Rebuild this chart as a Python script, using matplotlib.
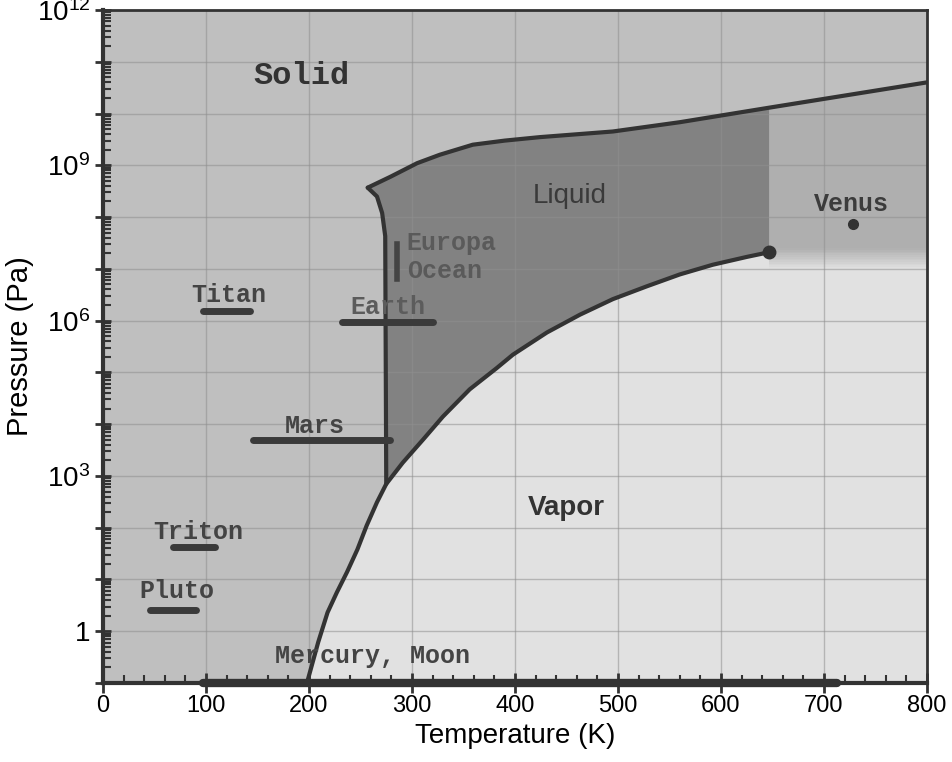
import numpy as np
import matplotlib
matplotlib.use("Agg")
import matplotlib.pyplot as plt
from matplotlib.ticker import MultipleLocator, LogLocator, NullFormatter

# phase boundaries of water (T in K, P in Pa)
vap_T = [198, 209, 218, 227, 237, 247, 256, 266, 275, 291, 311, 330, 356, 382, 398,
         431, 463, 495, 528, 560, 592, 625, 647]
vap_P = [0.1, 0.62, 2.3, 5.6, 14, 38, 110, 310, 700, 1800, 5100, 1.4e4, 4.7e4, 1.2e5,
         2.2e5, 5.9e5, 1.3e6, 2.6e6, 4.6e6, 7.8e6, 1.2e7, 1.7e7, 2.1e7]
melt_T = [275, 274, 271, 266, 257]
melt_P = [700, 4.3e7, 1.2e8, 2.5e8, 3.7e8]
top_T = [257, 279, 305, 327, 359, 390, 424, 495, 560, 647, 800]
top_P = [3.7e8, 6.0e8, 1.1e9, 1.6e9, 2.5e9, 3.0e9, 3.5e9, 4.5e9, 6.8e9, 1.3e10, 4.0e10]
crit_T, crit_P = 647, 2.1e7
super_low_P, super_high_P = 1.0e7, 2.5e7

# planetary surface conditions
bar_names = ['Titan', 'Earth', 'Mars', 'Triton', 'Pluto']
bar_tmin = [97, 232, 146, 68, 46]
bar_tmax = [143, 320, 279, 109, 90]
bar_p = [1.5e6, 9.2e5, 4.9e3, 42, 2.6]
europa_T = 285
europa_P = [6.3e6, 3.0e7]
venus_T, venus_P = 728, 7.2e7
moon_tmin, moon_tmax, moon_p = 97, 713, 0.1

ytick_pos = [1, 1e3, 1e6, 1e9, 1e12]
ytick_labels = ['1', '$10^{3}$', '$10^{6}$', '$10^{9}$', '$10^{12}$']
xtick_pos = [0, 100, 200, 300, 400, 500, 600, 700, 800]

SANS = 'Liberation Sans'
MONO = 'Liberation Mono'
plt.rcParams['font.family'] = SANS
plt.rcParams['mathtext.fontset'] = 'custom'
plt.rcParams['mathtext.rm'] = SANS
plt.rcParams['mathtext.it'] = SANS
plt.rcParams['mathtext.default'] = 'regular'

C_SOLID = '#bfbfbf'
C_LIQUID = '#828282'
C_VAPOR = '#e1e1e1'
C_SUPER = '#afafaf'
C_LINE = '#333333'

fig = plt.figure(figsize=(9.53, 7.62), dpi=100)
ax = fig.add_axes([103 / 953, 1 - 683 / 762, 824 / 953, 673 / 762])
ax.set_yscale('log')
ax.set_xlim(0, 800)
ax.set_ylim(0.1, 1e12)
ax.set_facecolor(C_SOLID)

#Vapor region: under the curve, and under the fuzzy band past the critical point
vx = vap_T + [crit_T, 800, 800]
vy = vap_P + [super_low_P, super_low_P, 0.1]
ax.fill(vx, vy, color=C_VAPOR, lw=0, zorder=0.2)

#Liquid region
lx = melt_T + [t for t in top_T[1:] if t <= crit_T] + [crit_T] + \
    [t for t in vap_T[::-1] if melt_T[0] <= t < crit_T]
ly = melt_P + [p for t, p in zip(top_T[1:], top_P[1:]) if t <= crit_T] + [crit_P] + \
    [p for t, p in zip(vap_T[::-1], vap_P[::-1]) if melt_T[0] <= t < crit_T]
ax.fill(lx, ly, color=C_LIQUID, lw=0, zorder=0.2)

#Supercritical block, fading into vapor at the bottom
ax.fill([crit_T, crit_T, top_T[-1], 800], [super_high_P, top_P[-2], top_P[-1], super_high_P],
        color=C_SUPER, lw=0, zorder=0.2)
c0 = np.array(matplotlib.colors.to_rgb(C_SUPER))
c1 = np.array(matplotlib.colors.to_rgb(C_VAPOR))
edges = np.logspace(np.log10(super_low_P), np.log10(super_high_P), 13)
for i in range(len(edges) - 1):
    f = (i + 0.5) / (len(edges) - 1)
    ax.fill_between([crit_T, 800], edges[i], edges[i + 1] * 1.002,
                    color=c1 + (c0 - c1) * f, lw=0, zorder=0.2)

#Boundaries
kw = dict(color=C_LINE, lw=3, solid_capstyle='round', solid_joinstyle='round', zorder=3)
ax.plot(vap_T, vap_P, **kw)
ax.plot(melt_T, melt_P, **kw)
ax.plot(top_T, top_P, **kw)
ax.plot([crit_T], [crit_P], 'o', color=C_LINE, ms=9, zorder=4)

#Planet bars
for t0, t1, p in zip(bar_tmin, bar_tmax, bar_p):
    ax.plot([t0, t1], [p, p], color='#3a3a3a', lw=5, solid_capstyle='round', zorder=4)
ax.plot([europa_T, europa_T], europa_P, color='#444444', lw=4, zorder=4)
ax.plot([venus_T], [venus_P], 'o', color='#333333', ms=7, zorder=4)
ax.plot([moon_tmin, moon_tmax], [moon_p, moon_p], color='#333333', lw=6,
        solid_capstyle='round', clip_on=False, zorder=5)

#Labels
mono = dict(family=MONO, fontweight='bold', fontsize=18, ha='center', va='center', zorder=6)
ax.text(193, 5.4e10, 'Solid', color='#333333', **{**mono, 'fontsize': 23})
ax.text(453, 2.5e8, 'Liquid', fontsize=20, color='#3a3a3a', ha='center', va='center')
ax.text(450, 245, 'Vapor', fontsize=20, fontweight='bold', color='#333333',
        ha='center', va='center')
ax.text(122, 3.1e6, 'Titan', color='#444444', **mono)
ax.text(277, 1.8e6, 'Earth', color='#5c5c5c', **mono)
ax.text(206, 9.1e3, 'Mars', color='#444444', **mono)
ax.text(92, 81, 'Triton', color='#444444', **mono)
ax.text(72, 5.9, 'Pluto', color='#444444', **mono)
ax.text(727, 1.8e8, 'Venus', color='#3c3c3c', **mono)
ax.text(295, 3.2e7, 'Europa', color='#5a5a5a', **{**mono, 'ha': 'left'})
ax.text(295, 8.9e6, 'Ocean', color='#5a5a5a', **{**mono, 'ha': 'left'})
ax.text(167, 0.33, 'Mercury, Moon', color='#444444', **{**mono, 'ha': 'left'})

#Grid and axes
ax.set_axisbelow(True)
ax.grid(True, which='major', color='#8f8f8f', lw=1, alpha=0.55)
decades = [10.0 ** k for k in range(-1, 13)]
ax.set_yticks(decades, labels=[ytick_labels[ytick_pos.index(d)] if d in ytick_pos else ''
                               for d in decades])
ax.yaxis.set_minor_locator(LogLocator(base=10, subs=np.arange(2, 10), numticks=50))
ax.yaxis.set_minor_formatter(NullFormatter())
ax.set_xticks(xtick_pos)
ax.xaxis.set_minor_locator(MultipleLocator(20))
ax.tick_params(axis='y', which='major', direction='inout', length=12, width=2,
               labelsize=20, pad=3, color='#333333')
ax.tick_params(axis='x', which='major', direction='inout', length=14, width=2,
               labelsize=17, pad=2, color='#333333')
ax.tick_params(which='minor', direction='in', length=6, width=1.5, color='#333333')
for side, w in [('left', 3), ('bottom', 3), ('top', 2), ('right', 2)]:
    ax.spines[side].set_linewidth(w)
    ax.spines[side].set_color('#333333')

ax.set_xlabel('Temperature (K)', fontsize=20, labelpad=4)
ax.set_ylabel('Pressure (Pa)', fontsize=21, labelpad=2)

fig.savefig('out.png', dpi=100, facecolor='white')
